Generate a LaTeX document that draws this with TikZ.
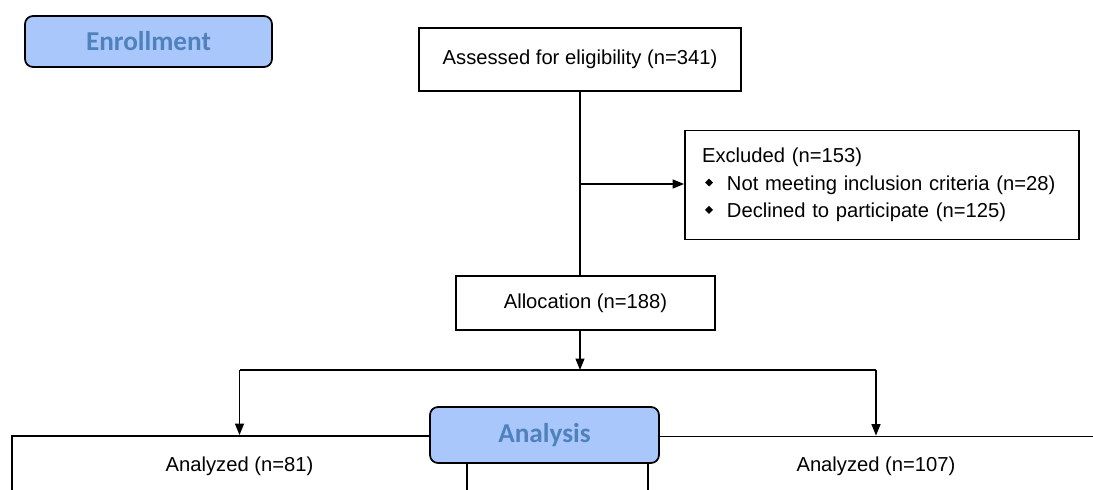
\documentclass[tikz,border=0pt]{standalone}
\usepackage{fontspec}
\setmainfont{Liberation Sans}
\newfontfamily\labelfont{Carlito}
\definecolor{PhaseFill}{HTML}{A9C7FA}
\definecolor{PhaseText}{HTML}{4F81BD}
\usetikzlibrary{arrows.meta}
\newcommand{\bul}{\raisebox{0.35ex}{\rotatebox{45}{\rule{3.2pt}{3.2pt}}}}

\tikzset{
  box/.style={draw,line width=1pt,fill=white,font=\fontsize{11.5}{15.6}\selectfont},
  phase/.style={draw,line width=1pt,rounded corners=0.16cm,fill=PhaseFill,
    text=PhaseText,font=\labelfont\bfseries\fontsize{15.5}{18}\selectfont},
  link/.style={line width=1pt},
  arr/.style={line width=1pt,-{Triangle[length=6.5pt,width=5pt]}}
}

\begin{document}
\begin{tikzpicture}[x=0.02cm,y=-0.02cm]
  \clip (0,0) rectangle (1093,490);
  % phase labels and boxes
  \node[phase,minimum width=4.94cm,minimum height=1.02cm] (enroll) at (148.5,41.5) {Enrollment};
  \node[box,minimum width=6.44cm,minimum height=1.26cm] (assess) at (580,59.5) {Assessed for eligibility (n=341)};
  \node[box,minimum width=7.88cm,minimum height=2.18cm,text width=7.2cm,inner xsep=0.34cm,align=left] (excl) at (882,185)
    {Excluded (n=153)\\
     \hspace*{0.06cm}\bul\hspace{0.28cm}Not meeting inclusion criteria (n=28)\\
     \hspace*{0.06cm}\bul\hspace{0.28cm}Declined to participate (n=125)};
  \node[box,minimum width=5.18cm,minimum height=1.08cm] (alloc) at (585.5,303) {Allocation (n=188)};
  \node[box,minimum width=9.1cm,minimum height=1.2cm] (left) at (239.5,466) {Analyzed (n=81)};
  \node[box,minimum width=9.12cm,minimum height=1.2cm] (right) at (876,466.5) {Analyzed (n=107)};
  \node[phase,minimum width=4.58cm,minimum height=1.12cm] (analysis) at (544.5,435) {Analysis};

  % connectors
  \coordinate (split) at (580,370);
  \draw[link] (assess.south) -- (assess.south |- alloc.north);
  \draw[arr] (assess.south |- 0,184) -- (excl.west |- 0,184);
  \draw[arr] (assess.south |- alloc.south) -- (split);
  \draw[link] (left.north |- split) -- (right.north |- split);
  \draw[arr] (left.north |- split) -- (left.north);
  \draw[arr] (right.north |- split) -- (right.north);
\end{tikzpicture}
\end{document}
